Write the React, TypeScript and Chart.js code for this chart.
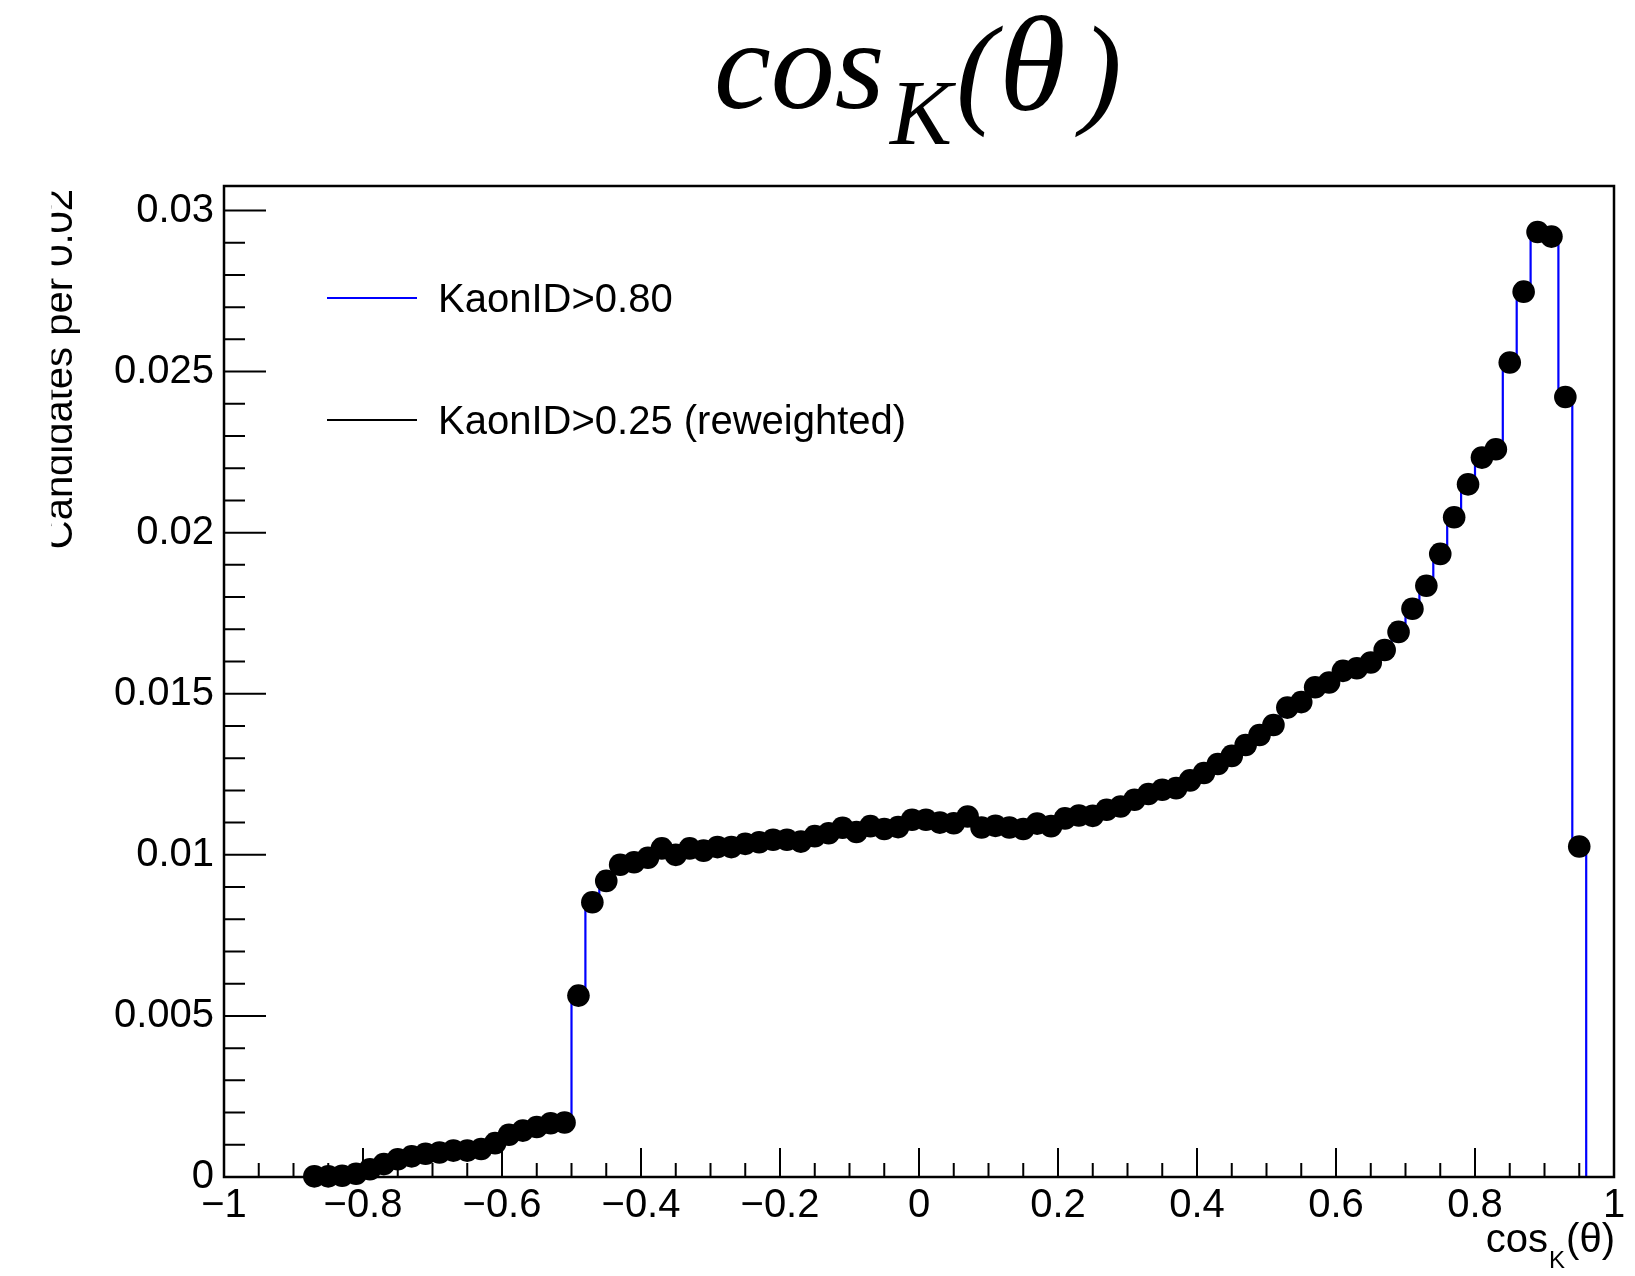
import React, { useEffect, useRef } from 'react';
import { Chart, registerables } from 'chart.js';

Chart.register(...registerables);

// Histogram definition: 100 bins of width 0.02 on [-1, 1]
const binLow = -1;
const binWidth = 0.02;
const nBins = 100;

// KaonID>0.80 (blue step histogram), normalised, per bin (left to right)
const kaonId080 = [
  0, 0, 0, 0, 0, 0,
  0.00002, 0.00002, 0.00004, 0.00010, 0.00024, 0.00040, 0.00055, 0.00064, 0.00072, 0.00076,
  0.00082, 0.00082, 0.00087, 0.00105, 0.00131, 0.00144, 0.00155, 0.00167, 0.00169, 0.00563,
  0.00853, 0.00919, 0.00969, 0.00977, 0.00991, 0.01020, 0.01000, 0.01020, 0.01013, 0.01024,
  0.01024, 0.01034, 0.01039, 0.01047, 0.01047, 0.01041, 0.01058, 0.01067, 0.01084, 0.01071,
  0.01089, 0.01080, 0.01086, 0.01109, 0.01109, 0.01100, 0.01098, 0.01119, 0.01085, 0.01090,
  0.01085, 0.01080, 0.01097, 0.01089, 0.01113, 0.01122, 0.01121, 0.01140, 0.01150, 0.01171,
  0.01189, 0.01202, 0.01207, 0.01231, 0.01254, 0.01282, 0.01307, 0.01341, 0.01372, 0.01403,
  0.01457, 0.01474, 0.01520, 0.01535, 0.01571, 0.01579, 0.01597, 0.01636, 0.01692, 0.01764,
  0.01835, 0.01934, 0.02048, 0.02150, 0.02233, 0.02259, 0.02528, 0.02748, 0.02933, 0.02919,
  0.02421, 0.01026, 0, 0,
];

// KaonID>0.25 (reweighted), black markers; null = empty bin (no marker)
const kaonId025Rew = [
  null, null, null, null, null, null,
  0.00002, 0.00002, 0.00004, 0.00010, 0.00024, 0.00040, 0.00055, 0.00064, 0.00072, 0.00076,
  0.00082, 0.00082, 0.00087, 0.00105, 0.00131, 0.00144, 0.00155, 0.00167, 0.00169, 0.00563,
  0.00853, 0.00919, 0.00969, 0.00977, 0.00991, 0.01020, 0.01000, 0.01020, 0.01013, 0.01024,
  0.01024, 0.01034, 0.01039, 0.01047, 0.01047, 0.01041, 0.01058, 0.01067, 0.01084, 0.01071,
  0.01089, 0.01080, 0.01086, 0.01109, 0.01109, 0.01100, 0.01098, 0.01119, 0.01085, 0.01090,
  0.01085, 0.01080, 0.01097, 0.01089, 0.01113, 0.01122, 0.01121, 0.01140, 0.01150, 0.01171,
  0.01189, 0.01202, 0.01207, 0.01231, 0.01254, 0.01282, 0.01307, 0.01341, 0.01372, 0.01403,
  0.01457, 0.01474, 0.01520, 0.01535, 0.01571, 0.01579, 0.01597, 0.01636, 0.01692, 0.01764,
  0.01835, 0.01934, 0.02048, 0.02150, 0.02233, 0.02259, 0.02528, 0.02748, 0.02933, 0.02919,
  0.02421, 0.01026, null, null,
];

const xTickValues = [-1, -0.8, -0.6, -0.4, -0.2, 0, 0.2, 0.4, 0.6, 0.8, 1];
const xTickLabels = ['\u22121', '\u22120.8', '\u22120.6', '\u22120.4', '\u22120.2', '0', '0.2', '0.4', '0.6', '0.8', '1'];
const yTickValues = [0, 0.005, 0.01, 0.015, 0.02, 0.025, 0.03];
const yTickLabels = ['0', '0.005', '0.01', '0.015', '0.02', '0.025', '0.03'];

const legendLabels = ['KaonID>0.80', 'KaonID>0.25 (reweighted)'];
const titleParts = ['cos', 'K', '(', '\u03b8', ')'];
const yAxisTitle = 'Candidates per 0.02';

const SANS = '"Liberation Sans", Arial, Helvetica, sans-serif';
const SERIF = '"Liberation Serif", "Times New Roman", serif';
const FS = 40;

const rootPlugin = {
  id: 'rootDecor',
  afterDraw(chart: any) {
    const ctx = chart.ctx as CanvasRenderingContext2D;
    const { left, right, top, bottom } = chart.chartArea;
    const xs = chart.scales.x;
    const ys = chart.scales.y;
    ctx.save();
    ctx.strokeStyle = '#000';
    ctx.lineWidth = 2.5;
    // frame
    ctx.strokeRect(left, top, right - left, bottom - top);
    // y ticks (inward)
    ctx.lineWidth = 2;
    ctx.beginPath();
    for (let i = 0; i <= 30; i++) {
      const v = i * 0.001;
      const py = ys.getPixelForValue(v);
      const len = i % 5 === 0 ? 42 : 21;
      ctx.moveTo(left, py);
      ctx.lineTo(left + len, py);
    }
    // x ticks (inward)
    for (let i = -20; i <= 20; i++) {
      const v = i * 0.05;
      const px = xs.getPixelForValue(v);
      const len = i % 4 === 0 ? 29 : 14;
      ctx.moveTo(px, bottom);
      ctx.lineTo(px, bottom - len);
    }
    ctx.stroke();

    // Title: cos_K(theta)
    ctx.fillStyle = '#000';
    ctx.textBaseline = 'alphabetic';
    ctx.textAlign = 'left';
    ctx.font = `italic 128px ${SERIF}`;
    ctx.fillText(titleParts[0], 714, 108);
    ctx.font = `italic 93px ${SERIF}`;
    ctx.fillText(titleParts[1], 890, 144);
    ctx.font = `italic 122px ${SERIF}`;
    ctx.fillText(titleParts[2], 956, 111);
    ctx.font = `italic 136px ${SERIF}`;
    ctx.fillText(titleParts[3], 999, 110);
    ctx.font = `italic 122px ${SERIF}`;
    ctx.fillText(titleParts[4], 1081, 111);

    // X axis title, right aligned to frame right
    ctx.font = `${FS}px ${SANS}`;
    const w3 = ctx.measureText('(\u03b8)').width;
    ctx.font = `24px ${SANS}`;
    const wK = ctx.measureText('K').width;
    ctx.font = `${FS}px ${SANS}`;
    const wc = ctx.measureText('cos').width;
    let xpos = right - w3 - wK - wc - 1;
    ctx.fillText('cos', xpos, 1252);
    xpos += wc + 1;
    ctx.font = `24px ${SANS}`;
    ctx.fillText('K', xpos, 1268);
    xpos += wK + 1;
    ctx.font = `${FS}px ${SANS}`;
    ctx.fillText('(\u03b8)', xpos, 1252);

    // Y axis title, rotated, clipped on the left like the original pad
    ctx.save();
    ctx.beginPath();
    ctx.rect(51.5, 0, 400, chart.height);
    ctx.clip();
    ctx.translate(71.7, top + 3);
    ctx.rotate(-Math.PI / 2);
    ctx.font = `${FS}px ${SANS}`;
    ctx.textAlign = 'right';
    ctx.textBaseline = 'alphabetic';
    ctx.fillText(yAxisTitle, 0, 0);
    ctx.restore();

    // Legend
    const legendColors = ['#0000ff', '#000000'];
    const legendY = [298, 420];
    ctx.lineWidth = 2;
    ctx.font = `${FS}px ${SANS}`;
    ctx.textAlign = 'left';
    ctx.textBaseline = 'alphabetic';
    for (let i = 0; i < legendLabels.length; i++) {
      ctx.strokeStyle = legendColors[i];
      ctx.beginPath();
      ctx.moveTo(327, legendY[i]);
      ctx.lineTo(417, legendY[i]);
      ctx.stroke();
      ctx.fillStyle = '#000';
      ctx.fillText(legendLabels[i], 438, legendY[i] + 14);
    }
    ctx.restore();
  },
};

export default function App() {
  const ref = useRef<HTMLCanvasElement | null>(null);

  useEffect(() => {
    document.body.style.margin = '0';
    const centers = Array.from({ length: nBins }, (_, i) => binLow + binWidth * (i + 0.5));
    const histPts = [
      { x: binLow, y: kaonId080[0] },
      ...centers.map((c, i) => ({ x: c, y: kaonId080[i] })),
      { x: binLow + binWidth * nBins, y: kaonId080[nBins - 1] },
    ];
    const dotPts = centers
      .map((c, i) => ({ x: c, y: kaonId025Rew[i] }))
      .filter((p) => p.y !== null);

    const chart = new Chart(ref.current as HTMLCanvasElement, {
      type: 'scatter',
      data: {
        datasets: [
          {
            label: legendLabels[1],
            data: dotPts as any,
            pointRadius: 11.3,
            pointBackgroundColor: '#000',
            pointBorderWidth: 0,
            showLine: false,
            clip: false as any,
            order: 0,
          },
          {
            type: 'line',
            label: legendLabels[0],
            data: histPts as any,
            stepped: 'middle',
            borderColor: '#0000ff',
            borderWidth: 2.2,
            pointRadius: 0,
            fill: false,
            order: 1,
          } as any,
        ],
      },
      options: {
        animation: false,
        responsive: false,
        maintainAspectRatio: false,
        layout: { padding: { left: 0, right: 21, top: 186, bottom: 0 } },
        plugins: {
          legend: { display: false },
          title: { display: false },
          tooltip: { enabled: false },
        },
        scales: {
          x: {
            type: 'linear',
            position: 'bottom',
            min: -1,
            max: 1,
            grid: { display: false, drawTicks: false },
            border: { display: false },
            afterBuildTicks: (s: any) => {
              s.ticks = xTickValues.map((v) => ({ value: v }));
            },
            afterFit: (s: any) => {
              s.height = 99;
            },
            ticks: {
              autoSkip: false,
              maxRotation: 0,
              minRotation: 0,
              padding: 5,
              color: '#000',
              font: { family: SANS, size: FS },
              callback: (_v: any, i: number) => xTickLabels[i],
            },
          },
          y: {
            type: 'linear',
            position: 'left',
            min: 0,
            max: 0.03076,
            grid: { display: false, drawTicks: false },
            border: { display: false },
            afterBuildTicks: (s: any) => {
              s.ticks = yTickValues.map((v) => ({ value: v }));
            },
            afterFit: (s: any) => {
              s.width = 224;
            },
            ticks: {
              autoSkip: false,
              padding: 10,
              color: '#000',
              font: { family: SANS, size: FS },
              callback: (_v: any, i: number) => yTickLabels[i],
            },
          },
        },
      },
      plugins: [rootPlugin],
    });
    return () => chart.destroy();
  }, []);

  return (
    <div style={{ position: 'fixed', left: 0, top: 0, width: 1635, height: 1276, background: '#fff' }}>
      <canvas ref={ref} width={1635} height={1276} style={{ display: 'block', width: 1635, height: 1276 }} />
    </div>
  );
}
